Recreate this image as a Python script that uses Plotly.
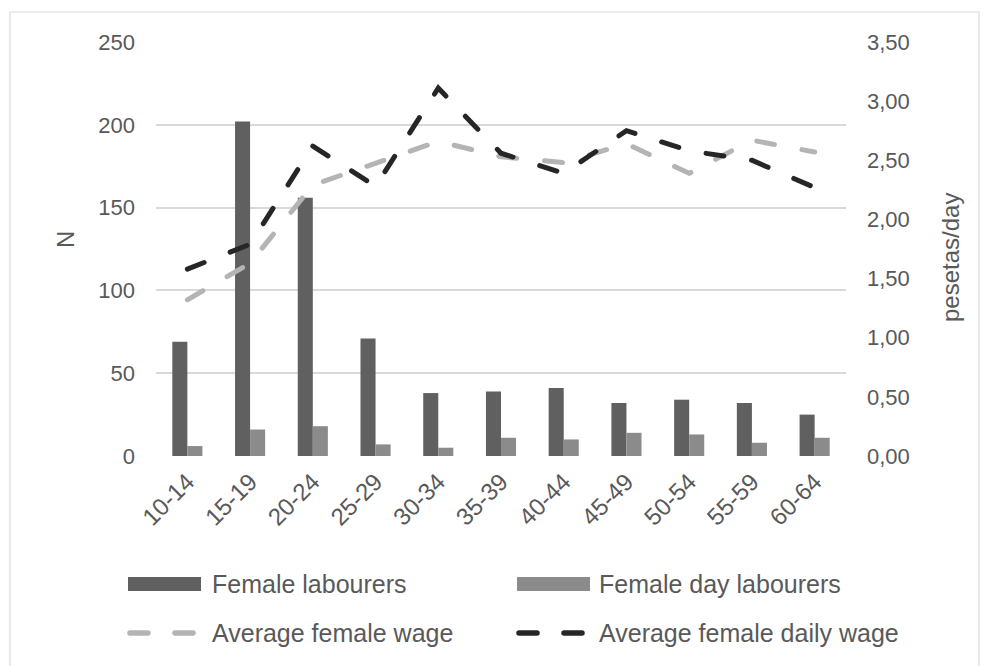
import plotly.graph_objects as go

# Age groups and counts
age_groups = ["10-14", "15-19", "20-24", "25-29", "30-34", "35-39",
              "40-44", "45-49", "50-54", "55-59", "60-64"]
female_labourers = [69, 202, 156, 71, 38, 39, 41, 32, 34, 32, 25]
female_day_labourers = [6, 16, 18, 7, 5, 11, 10, 14, 13, 8, 11]

# Wages in pesetas/day
avg_female_wage = [1.32, 1.63, 2.29, 2.47, 2.66, 2.53, 2.48, 2.64, 2.39, 2.67, 2.57]
avg_female_daily_wage = [1.58, 1.79, 2.62, 2.28, 3.11, 2.56, 2.39, 2.75, 2.58, 2.50, 2.27]

series_names = ["Female labourers", "Female day labourers",
                "Average female wage", "Average female daily wage"]

N_TICKS = [0, 50, 100, 150, 200, 250]
WAGE_TICKS = [0, 0.5, 1.0, 1.5, 2.0, 2.5, 3.0, 3.5]

DARK_BAR = "#606060"
LIGHT_BAR = "#8b8b8b"
LIGHT_LINE = "#b4b4b4"
DARK_LINE = "#262626"
TEXT = "#595959"
GRID = "#d9d9d9"
TICK_FONT = dict(family="Liberation Sans, Arial, sans-serif", size=22, color=TEXT)
TITLE_FONT = dict(family="Liberation Sans, Arial, sans-serif", size=24, color=TEXT)
NARROW = "Liberation Sans Narrow, Arial Narrow, Liberation Sans, sans-serif"

W, H = 986, 666
ML, MR, MT, MB = 156, 140, 42, 210
PW, PH = W - ML - MR, H - MT - MB


def px(x):
    return (x - ML) / PW


def py(y):
    return (H - MB - y) / PH


fig = go.Figure()
fig.add_trace(go.Bar(x=age_groups, y=female_labourers, name=series_names[0],
                     marker=dict(color=DARK_BAR, line=dict(width=0)), showlegend=False))
fig.add_trace(go.Bar(x=age_groups, y=female_day_labourers, name=series_names[1],
                     marker=dict(color=LIGHT_BAR, line=dict(width=0)), showlegend=False))
fig.add_trace(go.Scatter(x=age_groups, y=avg_female_wage, name=series_names[2], yaxis="y2",
                         mode="lines", line=dict(color=LIGHT_LINE, width=5, dash="18px,28px"),
                         showlegend=False))
fig.add_trace(go.Scatter(x=age_groups, y=avg_female_daily_wage, name=series_names[3], yaxis="y2",
                         mode="lines", line=dict(color=DARK_LINE, width=5, dash="18px,28px"),
                         showlegend=False))

shapes = [
    # outer chart frame
    dict(type="rect", xref="paper", yref="paper", x0=px(10), x1=px(979), y0=py(700), y1=py(12),
         line=dict(color=GRID, width=1.2), fillcolor="rgba(0,0,0,0)", layer="below"),
]
annotations = []

# legend: two rows, two columns
legend_rows = [584, 633]
legend_cols = [128, 517]
text_cols = [210, 597]
items = [
    (0, 0, "bar", DARK_BAR), (0, 1, "bar", LIGHT_BAR),
    (1, 0, "line", LIGHT_LINE), (1, 1, "line", DARK_LINE),
]
for name, (r, c, kind, col) in zip(series_names, items):
    yc = legend_rows[r]
    x0 = legend_cols[c]
    if kind == "bar":
        shapes.append(dict(type="rect", xref="paper", yref="paper",
                           x0=px(x0), x1=px(x0 + 73), y0=py(yc + 7), y1=py(yc - 7),
                           fillcolor=col, line=dict(width=0)))
    else:
        for a, b in [(x0 + 2, x0 + 20), (x0 + 47, x0 + 65)]:
            shapes.append(dict(type="line", xref="paper", yref="paper",
                               x0=px(a), x1=px(b), y0=py(yc), y1=py(yc),
                               line=dict(color=col, width=5.5)))
    annotations.append(dict(xref="paper", yref="paper", x=px(text_cols[c]), y=py(yc),
                            text=name, showarrow=False, xanchor="left", yanchor="middle",
                            font=dict(family=NARROW, size=25, color=TEXT)))

# axis titles
annotations.append(dict(xref="paper", yref="paper", x=px(65), y=py(240), text="N",
                        textangle=-90, showarrow=False, xanchor="center", yanchor="middle",
                        font=TITLE_FONT))
annotations.append(dict(xref="paper", yref="paper", x=px(950), y=py(258), text="pesetas/day",
                        textangle=-90, showarrow=False, xanchor="center", yanchor="middle",
                        font=TITLE_FONT))

fig.update_layout(
    width=W, height=H,
    margin=dict(l=ML, r=MR, t=MT, b=MB),
    paper_bgcolor="white", plot_bgcolor="white",
    separators=",.",
    barmode="group", bargap=0.52, bargroupgap=0,
    showlegend=False,
    xaxis=dict(type="category", tickangle=-45, showgrid=False, zeroline=False,
               showline=False, ticks="", ticklabelstandoff=6,
               tickfont=dict(family=NARROW, size=24, color=TEXT)),
    yaxis=dict(range=[0, 250], tickvals=N_TICKS, showgrid=True, gridcolor=GRID, gridwidth=1.5,
               zeroline=False, showline=False, ticks="", tickfont=TICK_FONT,
               ticklabelstandoff=20),
    yaxis2=dict(range=[0, 3.5], tickvals=WAGE_TICKS, tickformat=".2f", overlaying="y",
                side="right", showgrid=False, zeroline=False, showline=False, ticks="",
                tickfont=TICK_FONT, ticklabelstandoff=20),
    shapes=shapes,
    annotations=annotations,
)

round_caps = """
var gd = document.getElementById('{plot_id}');
gd.querySelectorAll('.scatterlayer path.js-line, .shapelayer path').forEach(function (p) {
  p.style.strokeLinecap = 'round';
});
"""

fig.write_html("out.html", post_script=round_caps)
